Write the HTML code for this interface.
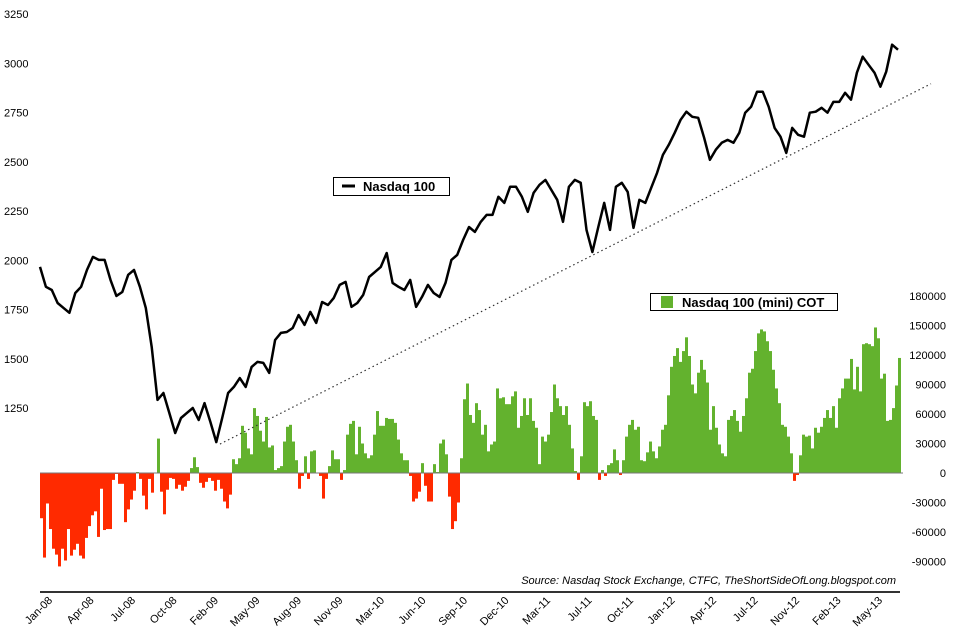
<!DOCTYPE html>
<html><head><meta charset="utf-8"><style>
body{margin:0;background:#fff;}
svg{display:block;font-family:"Liberation Sans","DejaVu Sans",sans-serif;}
</style></head><body>
<svg id="chart" width="953" height="638" viewBox="0 0 953 638" xmlns="http://www.w3.org/2000/svg">
<g id="bars"></g>
<line x1="40" y1="473" x2="903" y2="473" stroke="#777" stroke-width="1"/>
<line x1="40" y1="592" x2="900" y2="592" stroke="#333" stroke-width="2"/>
<g id="trend"></g>
<g id="line"></g>
<g id="laxis"></g>
<g id="raxis"></g>
<g id="xaxis"></g>
<g>
<rect x="333.5" y="177.5" width="116" height="18" fill="#fff" stroke="#000"/>
<line x1="342" y1="186" x2="355" y2="186" stroke="#000" stroke-width="3"/>
<text x="363" y="191" font-size="13" font-weight="bold" fill="#000">Nasdaq 100</text>
</g>
<g>
<rect x="650.5" y="293.5" width="187" height="17" fill="#fff" stroke="#000"/>
<rect x="661" y="296" width="12" height="12" fill="#63b22e"/>
<text x="682" y="307" font-size="13" font-weight="bold" fill="#000">Nasdaq 100 (mini) COT</text>
</g>
<text x="896" y="584" text-anchor="end" font-size="11" font-style="italic" fill="#000">Source: Nasdaq Stock Exchange, CTFC, TheShortSideOfLong.blogspot.com</text>
</svg>
<script>
const cot = [-46,-86,-31,-57,-77,-83,-95,-77,-89,-57,-84,-78,-72,-84,-87,-66,-54,-43,-39,-65,-16,-58,-57,-57,-7,-1,-11,-11,-50,-37,-27,-18,1,-6,-23,-37,-6,-20,0,35,-19,-42,-17,-5,-6,-16,-12,-18,-14,-8,5,16,6,-10,-15,-9,-5,-8,-18,-7,-16,-29,-36,-22,
14,9,15,48,41,25,19,66,58,43,32,57,26,28,3,5,7,32,47,49,32,13,
-16,-3,17,-6,22,23,0,-3,-26,-6,7,23,14,14,-7,3,
39,50,53,19,47,30,20,15,18,39,63,48,48,56,55,55,51,34,20,13,13,
-3,-29,-26,-19,10,-13,-29,-29,9,1,30,34,19,-24,-57,-49,-30,15,
75,91,59,51,71,64,39,49,22,29,32,86,76,77,70,70,78,83,46,58,76,59,76,53,46,9,37,32,39,62,90,76,68,59,68,49,25,2,-7,17,72,68,73,58,54,-7,3,-3,8,10,24,13,-2,13,37,49,54,44,47,13,12,21,32,22,15,27,44,49,79,108,119,127,113,124,138,119,90,81,102,115,105,92,44,68,46,29,20,17,54,58,64,53,42,58,76,102,106,124,142,146,144,134,124,105,86,71,49,47,37,20,-8,-2,18,39,37,38,25,46,41,47,56,64,56,68,46,76,86,96,96,116,85,108,83,131,132,131,129,148,137,96,101,53,54,66,89,117];
const ndx = [1966,1865,1849,1783,1758,1733,1834,1865,1951,2017,2002,2002,1900,1819,1839,1926,1951,1865,1758,1560,1291,1326,1225,1123,1199,1225,1250,1189,1275,1179,1077,1199,1326,1357,1402,1357,1458,1484,1479,1428,1595,1631,1636,1656,1722,1672,1738,1682,1788,1773,1809,1875,1890,1763,1783,1824,1915,1941,1966,2037,1885,1865,1849,1900,1763,1814,1875,1834,1814,1885,2002,2027,
2103,2169,2144,2195,2230,2230,2322,2291,2373,2373,2322,2246,2342,2383,2408,2357,2307,2195,2373,2408,2393,2154,2042,2169,2291,2154,2373,2393,2347,2164,2307,2291,2368,2444,2535,2586,2647,2713,2754,2728,2723,2622,2510,2561,2596,2611,2596,2647,2749,2779,2855,2855,2779,2672,2627,2545,2672,2637,2627,2749,2754,2774,2749,2804,2804,2850,2815,2952,3033,2992,2952,2881,2957,3094,3069];
const trendWeeks = [60, 297];
const trendValues = [1067, 2896];
const leftTicks = [1250,1500,1750,2000,2250,2500,2750,3000,3250];
const rightTicks = [-90000,-60000,-30000,0,30000,60000,90000,120000,150000,180000];
const xLabels = ["Jan-08","Apr-08","Jul-08","Oct-08","Feb-09","May-09","Aug-09","Nov-09","Mar-10","Jun-10","Sep-10","Dec-10","Mar-11","Jul-11","Oct-11","Jan-12","Apr-12","Jul-12","Nov-12","Feb-13","May-13"];

const NS="http://www.w3.org/2000/svg";
function xw(w){return 40+3*w;}
function yL(v){return 408-(v-1250)*0.197;}
function yR(k){return 473-k*0.9833;}
function mk(t,a,p){const e=document.createElementNS(NS,t);for(const k in a)e.setAttribute(k,a[k]);p.appendChild(e);return e;}

const gb=document.getElementById('bars');
cot.forEach((k,i)=>{
  const y0=yR(0),y1=yR(k);
  const r=mk('rect',{x:xw(i),y:Math.min(y0,y1),width:3,height:Math.max(Math.abs(y1-y0),0.5),fill:k>=0?'#63b22e':'#ff2a00'},gb);
  
  
});

const gl=document.getElementById('line');
const lineWeeks = (cot.length-1)/(ndx.length-1);
const pts=ndx.map((v,j)=>xw(lineWeeks*j).toFixed(1)+','+yL(v).toFixed(1)).join(' ');
const pl=mk('polyline',{points:pts,fill:'none',stroke:'#000','stroke-width':2.5,'stroke-linejoin':'round'},gl);



const gt=document.getElementById('trend');
const tl=mk('line',{x1:xw(trendWeeks[0]),y1:yL(trendValues[0]),x2:xw(trendWeeks[1]),y2:yL(trendValues[1]),stroke:'#333','stroke-width':1.2,'stroke-dasharray':'1.5,3'},gt);



const gla=document.getElementById('laxis');
leftTicks.forEach(v=>{
  const t=mk('text',{x:4,y:yL(v)+4,'font-size':11,fill:'#000'},gla);
  t.textContent=v;
  
  
});
const gra=document.getElementById('raxis');
rightTicks.forEach(k=>{
  const t=mk('text',{x:946,y:yR(k/1000)+4,'font-size':11,fill:'#000','text-anchor':'end'},gra);
  t.textContent=k;
  
  
});
const gx=document.getElementById('xaxis');
xLabels.forEach((s,i)=>{
  const x=53+41.5*i, y=601;
  const t=mk('text',{x:x,y:y,'font-size':11,fill:'#000','text-anchor':'end',transform:'rotate(-45 '+x+' '+y+')'},gx);
  t.textContent=s;
  
  
});
</script>
</body></html>
